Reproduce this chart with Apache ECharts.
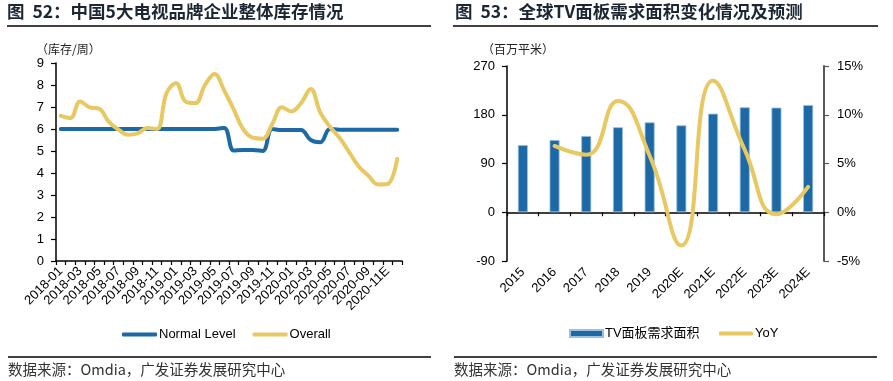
<!DOCTYPE html>
<html><head><meta charset="utf-8">
<script src="https://cdn.jsdelivr.net/npm/echarts@6/dist/echarts.min.js"></script>
<style>html,body{margin:0;padding:0;background:#fff}#c{width:893px;height:381px}</style>
</head><body><div id="c"></div>
<script>
// ---- Chart 52 data ----
const months = [
  '2018-01','2018-02','2018-03','2018-04','2018-05','2018-06','2018-07','2018-08','2018-09','2018-10','2018-11','2018-12',
  '2019-01','2019-02','2019-03','2019-04','2019-05','2019-06','2019-07','2019-08','2019-09','2019-10','2019-11','2019-12',
  '2020-01','2020-02','2020-03','2020-04','2020-05','2020-06','2020-07','2020-08','2020-09','2020-10','2020-11E','2020-12E'
];
const normalLevel = [
  6.0,6.0,6.0,6.0,6.0,6.0,6.0,6.0,6.0,6.0,6.0,6.0,
  6.0,6.0,6.0,6.0,6.0,6.05,5.02,5.05,5.05,5.0,6.0,5.95,
  5.95,5.95,5.5,5.4,6.0,5.97,5.97,5.97,5.97,5.97,5.97,5.97
];
const overall = [
  6.6,6.5,7.25,6.98,6.92,6.32,5.97,5.74,5.8,6.05,6.0,7.63,
  8.08,7.24,7.18,8.0,8.5,7.75,6.88,5.97,5.6,5.56,6.22,6.99,
  6.8,7.18,7.82,6.75,6.1,5.6,4.95,4.3,3.88,3.48,3.5,4.64
];
// ---- Chart 53 data ----
const years = ['2015','2016','2017','2018','2019','2020E','2021E','2022E','2023E','2024E'];
const tvPanelArea = [124,133.4,140.8,156.9,166,160.5,182,193.8,193.2,198];
const yoy = [null,6.8,5.9,11.4,5.8,-3.4,13.5,6.4,-0.2,2.6];

const BLUE = '#1d69a5';
const YELLOW = '#e8c862';
const NUM_FONT = '"Liberation Sans", Arial, sans-serif';

const chart = echarts.init(document.getElementById('c'), null, {renderer:'canvas'});

const axisLineBlack = {show:true, onZero:false, lineStyle:{color:'#000', width:1.5}};
const tickBlack = {show:true, length:4, inside:false, lineStyle:{color:'#000', width:1.2}};
const lblNum = {color:'#000', fontSize:13, fontFamily:NUM_FONT};
const legText = {color:'#000', fontSize:13, fontFamily:'"Liberation Sans", "Noto Sans CJK SC", sans-serif', padding:[0,0,0,-3]};

chart.setOption({
  animation:false,
  backgroundColor:'#fff',
  grid:[
    {left:56, top:63, width:346, height:198},
    {left:507, top:66, width:317, height:195}
  ],
  xAxis:[
    {gridIndex:0, type:'category', data:months, boundaryGap:true,
     axisLine:axisLineBlack,
     axisTick:Object.assign({interval:0}, tickBlack),
     axisLabel:Object.assign({interval:1, rotate:45, margin:8}, lblNum),
     splitLine:{show:false}},
    {gridIndex:1, type:'category', data:years, boundaryGap:true,
     axisLine:{show:true, onZero:true, onZeroAxisIndex:1, lineStyle:{color:'#000', width:1.5}},
     axisTick:Object.assign({interval:0}, tickBlack),
     axisLabel:{show:false}, splitLine:{show:false}},
    {gridIndex:1, type:'category', data:years, boundaryGap:true, position:'bottom',
     axisLine:{show:false, onZero:false},
     axisTick:{show:false},
     axisLabel:Object.assign({interval:0, rotate:45, margin:9}, lblNum),
     splitLine:{show:false}}
  ],
  yAxis:[
    {gridIndex:0, type:'value', min:0, max:9, interval:1,
     axisLine:axisLineBlack, axisTick:Object.assign({}, tickBlack, {length:5}),
     axisLabel:Object.assign({margin:12}, lblNum), splitLine:{show:false}},
    {gridIndex:1, type:'value', min:-90, max:270, interval:90, position:'left',
     axisLine:axisLineBlack, axisTick:Object.assign({}, tickBlack, {length:5}),
     axisLabel:Object.assign({margin:12}, lblNum), splitLine:{show:false}},
    {gridIndex:1, type:'value', min:-5, max:15, interval:5, position:'right',
     axisLine:{show:true, onZero:false, lineStyle:{color:'#595959', width:2}},
     axisTick:{show:true, length:5, lineStyle:{color:'#595959', width:1.2}},
     axisLabel:Object.assign({margin:13, formatter:'{value}%'}, lblNum), splitLine:{show:false}}
  ],
  legend:[
    {data:[{name:'Normal Level', icon:'roundRect'},{name:'Overall', icon:'roundRect'}],
     left:117, top:323, itemWidth:35, itemHeight:4, itemGap:17, textStyle:legText},
    {data:[{name:'TV面板需求面积', icon:'rect'}],
     left:564, top:322, itemWidth:33, itemHeight:7, textStyle:legText},
    {data:[{name:'YoY', icon:'roundRect'}],
     left:714, top:322, itemWidth:34, itemHeight:4, textStyle:legText}
  ],
  series:[
    {name:'Normal Level', type:'line', xAxisIndex:0, yAxisIndex:0, data:normalLevel,
     smooth:0.4, symbol:'none', lineStyle:{color:BLUE, width:4, cap:'round'}, itemStyle:{color:BLUE}},
    {name:'Overall', type:'line', xAxisIndex:0, yAxisIndex:0, data:overall,
     smooth:0.4, symbol:'none', lineStyle:{color:YELLOW, width:4, cap:'round'}, itemStyle:{color:YELLOW}},
    {name:'TV面板需求面积', type:'bar', xAxisIndex:1, yAxisIndex:1, data:tvPanelArea, barWidth:10,
     itemStyle:{color:BLUE, borderColor:'#9cc0e0', borderWidth:0.8}},
    {name:'YoY', type:'line', xAxisIndex:1, yAxisIndex:2, data:yoy, connectNulls:false,
     smooth:0.5, symbol:'none', lineStyle:{color:YELLOW, width:4, cap:'round'}, itemStyle:{color:YELLOW}}
  ],
  graphic:[
    {type:'text', left:7, top:3, style:{text:'图  52：中国5大电视品牌企业整体库存情况', font:'bold 17.5px "Noto Sans CJK SC"', fill:'#1c2733'}},
    {type:'text', left:455, top:3, style:{text:'图  53：全球TV面板需求面积变化情况及预测', font:'bold 17.5px "Noto Sans CJK SC"', fill:'#1c2733'}},
    {type:'line', shape:{x1:7, y1:26, x2:431, y2:26}, style:{stroke:'#000', lineWidth:1.5}},
    {type:'line', shape:{x1:453, y1:26, x2:878, y2:26}, style:{stroke:'#000', lineWidth:1.5}},
    {type:'text', left:36, top:43, style:{text:'（库存/周）', font:'12px "Noto Sans CJK SC"', fill:'#222'}},
    {type:'text', left:482, top:43, style:{text:'（百万平米）', font:'12px "Noto Sans CJK SC"', fill:'#222'}},
    {type:'line', shape:{x1:8, y1:357, x2:431, y2:357}, style:{stroke:'#000', lineWidth:1.5}},
    {type:'line', shape:{x1:454, y1:357, x2:877, y2:357}, style:{stroke:'#000', lineWidth:1.5}},
    {type:'text', left:8, top:362, style:{text:'数据来源：Omdia，广发证券发展研究中心', font:'14.5px "Noto Sans CJK SC"', fill:'#333'}},
    {type:'text', left:454, top:362, style:{text:'数据来源：Omdia，广发证券发展研究中心', font:'14.5px "Noto Sans CJK SC"', fill:'#333'}}
  ]
});
</script>
</body></html>
